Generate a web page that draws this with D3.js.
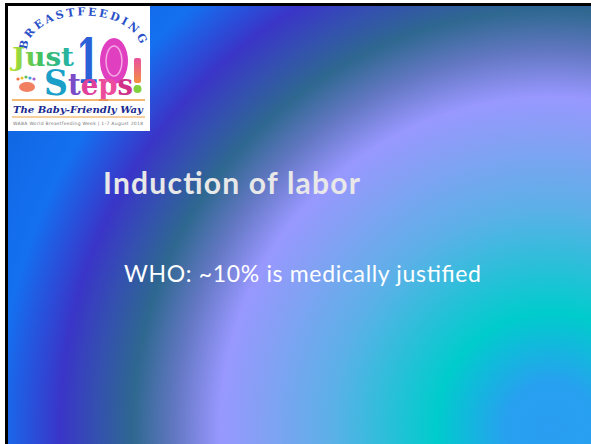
<!DOCTYPE html>
<html>
<head>
<meta charset="utf-8">
<style>
  html, body { margin: 0; padding: 0; background: #fff; }
  svg { display: block; }
</style>
</head>
<body>
<svg width="591" height="444"></svg>
<script src="https://cdn.jsdelivr.net/npm/d3@7"></script>
<script>

// slide texts
var titleText = "Induction of labor";
var bulletText = "WHO: ~10% is medically justified";

// background rings: distance from the glow centre -> colour
var bgRadius = [0, 45, 115, 220, 290, 331, 375, 418, 455, 491, 553, 700];
var bgColors = ["#2a9ef2", "#28a0f0", "#00cccc", "#5cb0e8", "#84a0f4", "#9898ff", "#6478c4", "#2e6890", "#3450b0", "#3a35c8", "#1470f0", "#0e5cd4"];

// logo texts
var logoArc = "BREASTFEEDING";
var logoSteps = ["S", "t", "e", "p", "s"];
var stepColors = ["#1aa0c8", "#7a4cc8", "#e0409a", "#ec4c9c", "#d0308a"];
var footColors = ["#f07040", "#f0c030", "#60c060", "#40a0e0", "#a060d0"];
var logoTag = "The Baby-Friendly Way";
var logoFoot = "WABA World Breastfeeding Week  |  1-7 August 2018";

var svg = d3.select("svg"),
    width = +svg.attr("width"),
    height = +svg.attr("height");

var defs = svg.append("defs");

var r = d3.scaleLinear().domain([0, 700]).range([0, 1]);

var bg = defs.append("radialGradient")
    .attr("id", "bg")
    .attr("gradientUnits", "userSpaceOnUse")
    .attr("cx", 551).attr("cy", 428).attr("r", 700);

bg.selectAll("stop")
  .data(bgRadius)
  .enter().append("stop")
    .attr("offset", function(d) { return r(d); })
    .attr("stop-color", function(d, i) { return bgColors[i]; });

var just = defs.append("linearGradient")
    .attr("id", "just").attr("x1", 0).attr("x2", 1);
just.append("stop").attr("offset", 0).attr("stop-color", "#b8e030");
just.append("stop").attr("offset", 0.5).attr("stop-color", "#40c060");
just.append("stop").attr("offset", 1).attr("stop-color", "#20b0b0");

var bang = defs.append("linearGradient")
    .attr("id", "bang").attr("x1", 0).attr("x2", 0).attr("y1", 0).attr("y2", 1);
bang.append("stop").attr("offset", 0).attr("stop-color", "#e850a0");
bang.append("stop").attr("offset", 1).attr("stop-color", "#f49040");

svg.append("rect")
    .attr("x", 5).attr("y", 3)
    .attr("width", width - 5).attr("height", height - 3)
    .attr("fill", "#000");

svg.append("rect")
    .attr("x", 8).attr("y", 6)
    .attr("width", width - 8).attr("height", height - 6)
    .attr("fill", "url(#bg)");

// logo
var logo = svg.append("g");

logo.append("rect")
    .attr("x", 8).attr("y", 6)
    .attr("width", 142).attr("height", 125)
    .attr("fill", "#fff");

defs.append("path")
    .attr("id", "arc")
    .attr("d", "M27,50 A56,34 0 0 1 141,50");

logo.append("text")
    .attr("font-family", "DejaVu Serif")
    .attr("font-weight", "bold")
    .attr("font-size", 11)
    .attr("fill", "#2a50c8")
  .append("textPath")
    .attr("href", "#arc")
    .attr("textLength", 140)
    .text(logoArc);

logo.append("text")
    .attr("x", 12).attr("y", 66)
    .attr("font-family", "DejaVu Serif")
    .attr("font-weight", "bold")
    .attr("font-size", 26)
    .attr("fill", "url(#just)")
    .attr("textLength", 62)
    .attr("lengthAdjust", "spacingAndGlyphs")
    .text("Just");

logo.append("text")
    .attr("x", 76).attr("y", 83)
    .attr("font-family", "DejaVu Serif")
    .attr("font-weight", "bold")
    .attr("font-size", 62)
    .attr("fill", "#2a60d8")
    .attr("textLength", 24)
    .attr("lengthAdjust", "spacingAndGlyphs")
    .text("1");

logo.append("ellipse")
    .attr("cx", 114).attr("cy", 61)
    .attr("rx", 14).attr("ry", 23)
    .attr("fill", "#e040c0");

logo.append("ellipse")
    .attr("cx", 114).attr("cy", 61)
    .attr("rx", 8).attr("ry", 15)
    .attr("fill", "none")
    .attr("stroke", "#f4a8e4")
    .attr("stroke-width", 1.5);

// little footprints
logo.selectAll(".foot")
  .data(footColors)
  .enter().append("circle")
    .attr("class", "foot")
    .attr("cx", function(d, i) { return 18 + i * 4; })
    .attr("cy", function(d, i) { return 77 + Math.abs(i - 2); })
    .attr("r", 1.6)
    .attr("fill", function(d) { return d; });

logo.append("ellipse")
    .attr("cx", 27).attr("cy", 87)
    .attr("rx", 8).attr("ry", 5)
    .attr("fill", "#f08060");

logo.append("text")
    .attr("x", 44).attr("y", 95)
    .attr("font-family", "DejaVu Serif")
    .attr("font-weight", "bold")
    .attr("font-size", 30)
    .attr("textLength", 89)
    .attr("lengthAdjust", "spacingAndGlyphs")
    .selectAll("tspan")
    .data(logoSteps)
    .enter().append("tspan")
      .attr("fill", function(d, i) { return stepColors[i]; })
      .attr("font-size", function(d, i) { return i === 0 ? 36 : 30; })
      .text(function(d) { return d; });

logo.append("rect")
    .attr("x", 134).attr("y", 58)
    .attr("width", 7).attr("height", 25)
    .attr("rx", 2)
    .attr("fill", "url(#bang)");

logo.append("circle")
    .attr("cx", 137.5).attr("cy", 89)
    .attr("r", 4)
    .attr("fill", "#80d040");

logo.append("line")
    .attr("x1", 12).attr("x2", 145)
    .attr("y1", 100).attr("y2", 100)
    .attr("stroke", "#f0a040").attr("stroke-width", 1.5);

logo.append("text")
    .attr("x", 13).attr("y", 113)
    .attr("font-family", "DejaVu Serif")
    .attr("font-weight", "bold")
    .attr("font-style", "italic")
    .attr("font-size", 10)
    .attr("textLength", 130)
    .attr("lengthAdjust", "spacingAndGlyphs")
    .attr("fill", "#1a2a90")
    .text(logoTag);

logo.append("line")
    .attr("x1", 12).attr("x2", 145)
    .attr("y1", 117).attr("y2", 117)
    .attr("stroke", "#f0a040").attr("stroke-width", 1);

logo.append("text")
    .attr("x", 13).attr("y", 125)
    .attr("font-family", "DejaVu Sans")
    .attr("font-size", 4.5)
    .attr("textLength", 130)
    .attr("fill", "#777")
    .text(logoFoot);

// slide text
svg.append("text")
    .attr("x", 103).attr("y", 194)
    .attr("font-family", "Lato")
    .attr("font-weight", "bold")
    .attr("font-size", 30)
    .attr("fill", "#e8e8e8")
    .attr("textLength", 257)
    .text(titleText);

svg.append("text")
    .attr("x", 124).attr("y", 282)
    .attr("font-family", "Lato")
    .attr("font-size", 23)
    .attr("fill", "#fff")
    .attr("textLength", 357)
    .text(bulletText);

</script>
</body>
</html>
